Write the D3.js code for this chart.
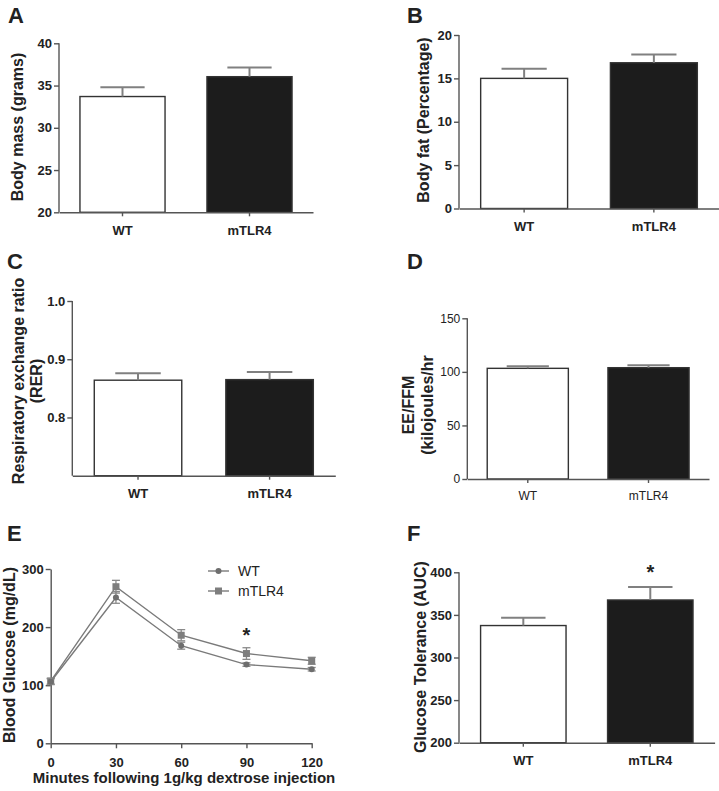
<!DOCTYPE html>
<html>
<head>
<meta charset="utf-8">
<script src="https://cdn.jsdelivr.net/npm/d3@7"></script>
<style>
  html, body { margin: 0; padding: 0; background: #fff; }
  svg text { font-family: "Liberation Sans", Arial, Helvetica, sans-serif; fill: #222; }
</style>
</head>
<body>
<svg id="chart" width="719" height="791"></svg>
<script>
// ---------- DATA ----------
const groups = ["WT", "mTLR4"];
const barFills = ["#ffffff", "#1c1c1c"];

const bodyMass = [33.7, 36.05];
const bodyMassErr = [1.1, 1.1];
const bodyMassTicks = [20, 25, 30, 35, 40];

const bodyFat = [15.0, 16.8];
const bodyFatErr = [1.1, 0.95];
const bodyFatTicks = [0, 5, 10, 15, 20];

const rer = [0.864, 0.865];
const rerErr = [0.012, 0.013];
const rerTicks = [0.8, 0.9, 1.0];
const rerTickLabels = ["0.8", "0.9", "1.0"];

const eeffm = [103.3, 103.9];
const eeffmErr = [1.9, 2.2];
const eeffmTicks = [0, 50, 100, 150];

const gttMinutes = [0, 30, 60, 90, 120];
const gttWT = [106, 251, 168, 135.5, 127.5];
const gttWTErr = [5, 10, 6, 3, 3];
const gttTLR4 = [107, 269.5, 186, 154.5, 142];
const gttTLR4Err = [5, 11, 9.6, 10, 6];
const gttYTicks = [0, 100, 200, 300];

const auc = [337.5, 367.5];
const aucErr = [9.3, 15.3];
const aucTicks = [200, 250, 300, 350, 400];

// ---------- DRAWING ----------
const svg = d3.select("#chart");
const AXIS = "#555";
const ERR = "#808080";

function panelLetter(t, x, y) {
  svg.append("text").attr("x", x).attr("y", y).text(t)
    .style("font-size", "22px").style("font-weight", "bold");
}

function barPanel(o) {
  const g = svg.append("g");
  const y = d3.scaleLinear().domain(o.domain).range([o.yBottom, o.yTop]);
  const x = d3.scaleBand().domain(groups).range([o.xLeft, o.xRight])
    .paddingInner(o.pi).paddingOuter(o.po);
  const bold = o.bold !== false;
  const tickFs = bold ? "13px" : "12px";

  // bars
  g.selectAll("rect.bar").data(groups).join("rect")
    .attr("x", d => x(d)).attr("width", x.bandwidth())
    .attr("y", (d, i) => y(o.values[i]))
    .attr("height", (d, i) => o.yBottom - y(o.values[i]))
    .attr("fill", (d, i) => barFills[i])
    .attr("stroke", "#333").attr("stroke-width", 1.4);

  // error bars
  const capW = x.bandwidth() * 0.52;
  groups.forEach((d, i) => {
    const cx = x(d) + x.bandwidth() / 2;
    const top = y(o.values[i] + o.errs[i]);
    g.append("line").attr("x1", cx).attr("x2", cx)
      .attr("y1", y(o.values[i])).attr("y2", top)
      .attr("stroke", ERR).attr("stroke-width", 2);
    g.append("line").attr("x1", cx - capW / 2).attr("x2", cx + capW / 2)
      .attr("y1", top).attr("y2", top)
      .attr("stroke", ERR).attr("stroke-width", 2);
  });

  // y axis
  const ya = d3.axisLeft(y).tickValues(o.ticks).tickSize(5).tickPadding(2)
    .tickSizeOuter(0);
  if (o.tickLabels) ya.tickFormat((d, i) => o.tickLabels[i]);
  const yg = g.append("g").attr("transform", `translate(${o.xLeft},0)`).call(ya);
  yg.select(".domain").attr("d", `M0,${o.yBottom}V${o.yTop}`);
  yg.selectAll("line").attr("stroke", AXIS).attr("stroke-width", 1.4);
  yg.select(".domain").attr("stroke", AXIS).attr("stroke-width", 1.4);
  yg.selectAll("text").style("font-size", tickFs).style("font-weight", bold ? "bold" : "normal")
    .attr("fill", "#222");

  // x axis
  const xa = d3.axisBottom(x).tickSize(4).tickSizeOuter(0).tickPadding(6);
  const xg = g.append("g").attr("transform", `translate(0,${o.yBottom})`).call(xa);
  xg.select(".domain").attr("stroke", AXIS).attr("stroke-width", 1.4);
  xg.selectAll("line").attr("stroke", AXIS).attr("stroke-width", 1.4);
  xg.selectAll("text").style("font-size", tickFs).style("font-weight", bold ? "bold" : "normal")
    .attr("fill", "#222").attr("dy", "0.95em");

  // y title
  const lines = o.title;
  lines.forEach((t, k) => {
    svg.append("text")
      .attr("transform", `translate(${o.titleX[k]},${o.titleY}) rotate(-90)`)
      .attr("text-anchor", "middle")
      .style("font-size", "16px").style("font-weight", "bold")
      .text(t);
  });

  if (o.star !== undefined) {
    const i = o.star;
    const cx = x(groups[i]) + x.bandwidth() / 2;
    svg.append("text").attr("x", cx).attr("y", y(o.values[i] + o.errs[i]) - 8)
      .attr("text-anchor", "middle").style("font-size", "20px").style("font-weight", "bold")
      .text("*");
  }
}

// Panel A
panelLetter("A", 8, 23);
barPanel({ values: bodyMass, errs: bodyMassErr, domain: [20, 40], ticks: bodyMassTicks,
  yBottom: 212.3, yTop: 43.3, xLeft: 59, xRight: 313, pi: 0.33, po: 0.165,
  title: ["Body mass (grams)"], titleX: [23], titleY: 127 });

// Panel B
panelLetter("B", 407, 23);
barPanel({ values: bodyFat, errs: bodyFatErr, domain: [0, 20], ticks: bodyFatTicks,
  yBottom: 208.5, yTop: 35, xLeft: 459, xRight: 719, pi: 0.33, po: 0.167,
  title: ["Body fat (Percentage)"], titleX: [429], titleY: 120 });

// Panel C
panelLetter("C", 7, 269);
barPanel({ values: rer, errs: rerErr, domain: [0.7, 1.0], ticks: rerTicks, tickLabels: rerTickLabels,
  yBottom: 475.7, yTop: 301, xLeft: 72.3, xRight: 335.3, pi: 0.335, po: 0.167,
  title: ["Respiratory exchange ratio", "(RER)"], titleX: [24, 42], titleY: 381 });

// Panel D
panelLetter("D", 407, 269);
barPanel({ values: eeffm, errs: eeffmErr, domain: [0, 150], ticks: eeffmTicks, bold: false,
  yBottom: 479, yTop: 318.3, xLeft: 467.3, xRight: 709, pi: 0.328, po: 0.165,
  title: ["EE/FFM", "(kilojoules/hr"], titleX: [414, 433], titleY: 405 });

// Panel F
panelLetter("F", 407, 541);
barPanel({ values: auc, errs: aucErr, domain: [200, 400], ticks: aucTicks,
  yBottom: 742.7, yTop: 572.3, xLeft: 459, xRight: 714.6, pi: 0.327, po: 0.17,
  title: ["Glucose Tolerance (AUC)"], titleX: [426], titleY: 657, star: 1 });

// Panel E - line chart
panelLetter("E", 7, 541);
(function () {
  const g = svg.append("g");
  const LINE = "#7a7a7a";
  const x = d3.scaleLinear().domain([0, 120]).range([50.7, 311.7]);
  const y = d3.scaleLinear().domain([0, 300]).range([743.3, 569]);

  const xa = d3.axisBottom(x).tickValues(gttMinutes).tickSize(5).tickSizeOuter(0).tickPadding(6);
  const xg = g.append("g").attr("transform", `translate(0,${y(0)})`).call(xa);
  const ya = d3.axisLeft(y).tickValues(gttYTicks).tickSize(5).tickSizeOuter(0).tickPadding(2);
  const yg = g.append("g").attr("transform", `translate(${x(0)},0)`).call(ya);
  [xg, yg].forEach(a => {
    a.selectAll("line").attr("stroke", AXIS).attr("stroke-width", 1.4);
    a.select(".domain").attr("stroke", AXIS).attr("stroke-width", 1.4);
    a.selectAll("text").style("font-size", "13px").style("font-weight", "bold").attr("fill", "#222");
  });
  xg.selectAll("text").attr("dy", "0.95em");

  const series = [
    { vals: gttTLR4, errs: gttTLR4Err, shape: "square" },
    { vals: gttWT, errs: gttWTErr, shape: "circle" }
  ];
  const line = d3.line().x((d, i) => x(gttMinutes[i])).y(d => y(d));
  series.forEach(s => {
    // error bars
    s.vals.forEach((v, i) => {
      const cx = x(gttMinutes[i]);
      g.append("line").attr("x1", cx).attr("x2", cx)
        .attr("y1", y(v - s.errs[i])).attr("y2", y(v + s.errs[i]))
        .attr("stroke", "#8a8a8a").attr("stroke-width", 1.3);
      [v - s.errs[i], v + s.errs[i]].forEach(e => {
        g.append("line").attr("x1", cx - 4).attr("x2", cx + 4)
          .attr("y1", y(e)).attr("y2", y(e))
          .attr("stroke", "#8a8a8a").attr("stroke-width", 1.3);
      });
    });
    g.append("path").datum(s.vals).attr("d", line)
      .attr("fill", "none").attr("stroke", LINE).attr("stroke-width", 1.4);
    s.vals.forEach((v, i) => {
      if (s.shape === "circle") {
        g.append("circle").attr("cx", x(gttMinutes[i])).attr("cy", y(v)).attr("r", 3)
          .attr("fill", "#6e6e6e");
      } else {
        g.append("rect").attr("x", x(gttMinutes[i]) - 3.5).attr("y", y(v) - 3.5)
          .attr("width", 7).attr("height", 7).attr("fill", "#7e7e7e");
      }
    });
  });

  // star at 90
  g.append("text").attr("x", x(90)).attr("y", y(gttTLR4[3] + gttTLR4Err[3]) - 6)
    .attr("text-anchor", "middle").style("font-size", "20px").style("font-weight", "bold").text("*");

  // legend
  const legend = [{ name: "WT", shape: "circle", yy: 571 }, { name: "mTLR4", shape: "square", yy: 591 }];
  legend.forEach(l => {
    g.append("line").attr("x1", 208).attr("x2", 229).attr("y1", l.yy).attr("y2", l.yy)
      .attr("stroke", LINE).attr("stroke-width", 1.4);
    if (l.shape === "circle") g.append("circle").attr("cx", 218.5).attr("cy", l.yy).attr("r", 3).attr("fill", "#6e6e6e");
    else g.append("rect").attr("x", 215).attr("y", l.yy - 3.5).attr("width", 7).attr("height", 7).attr("fill", "#7e7e7e");
    g.append("text").attr("x", 238).attr("y", l.yy + 5).style("font-size", "14px").attr("fill", "#333").text(l.name);
  });

  // axis titles
  svg.append("text").attr("transform", `translate(15,655) rotate(-90)`).attr("text-anchor", "middle")
    .style("font-size", "16px").style("font-weight", "bold").text("Blood Glucose (mg/dL)");
  svg.append("text").attr("x", 184).attr("y", 783).attr("text-anchor", "middle")
    .style("font-size", "15px").style("font-weight", "bold").text("Minutes following 1g/kg dextrose injection");
})();
</script>
</body>
</html>
